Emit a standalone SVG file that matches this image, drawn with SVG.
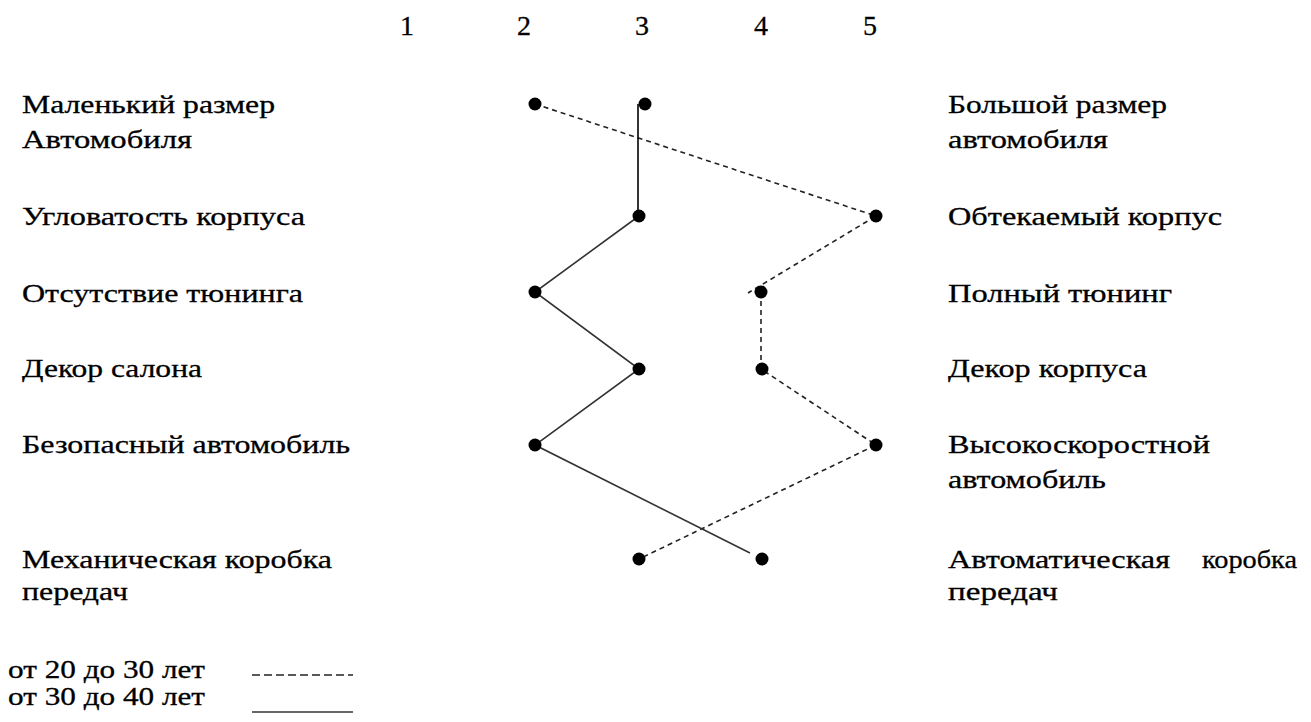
<svg xmlns="http://www.w3.org/2000/svg" width="1311" height="722" viewBox="0 0 1311 722">
<style>
text{font-family:"Liberation Serif","DejaVu Serif",serif;font-size:26px;fill:#000;stroke:#000;stroke-width:0.3}
.num{text-anchor:middle;font-size:28px}
.dot{fill:#000}
.solid{fill:none;stroke:#333;stroke-width:1.6}
.dash{fill:none;stroke:#222;stroke-width:1.6;stroke-dasharray:5 4}
.ldash{fill:none;stroke:#222;stroke-width:1.3;stroke-dasharray:8 4}
</style>
<rect width="1311" height="722" fill="#fff"/>
<g id="scale">
<text class="num" x="407" y="35">1</text>
<text class="num" x="524" y="35">2</text>
<text class="num" x="642" y="35">3</text>
<text class="num" x="761" y="35">4</text>
<text class="num" x="870" y="35">5</text>
</g>
<g id="left-labels">
<g id="l1"><text x="22" y="113" textLength="253" lengthAdjust="spacingAndGlyphs">Маленький размер</text><text x="22" y="148" textLength="170" lengthAdjust="spacingAndGlyphs">Автомобиля</text></g>
<g id="l2"><text x="22" y="225" textLength="283" lengthAdjust="spacingAndGlyphs">Угловатость корпуса</text></g>
<g id="l3"><text x="22" y="302" textLength="281" lengthAdjust="spacingAndGlyphs">Отсутствие тюнинга</text></g>
<g id="l4"><text x="22" y="377" textLength="180" lengthAdjust="spacingAndGlyphs">Декор салона</text></g>
<g id="l5"><text x="22" y="453" textLength="328" lengthAdjust="spacingAndGlyphs">Безопасный автомобиль</text></g>
<g id="l6"><text x="22" y="568" textLength="310" lengthAdjust="spacingAndGlyphs">Механическая коробка</text><text x="22" y="600" textLength="106" lengthAdjust="spacingAndGlyphs">передач</text></g>
</g>
<g id="right-labels">
<g id="r1"><text x="948" y="113" textLength="219" lengthAdjust="spacingAndGlyphs">Большой размер</text><text x="948" y="148" textLength="160" lengthAdjust="spacingAndGlyphs">автомобиля</text></g>
<g id="r2"><text x="948" y="225" textLength="274" lengthAdjust="spacingAndGlyphs">Обтекаемый корпус</text></g>
<g id="r3"><text x="948" y="302" textLength="224" lengthAdjust="spacingAndGlyphs">Полный тюнинг</text></g>
<g id="r4"><text x="948" y="377" textLength="199" lengthAdjust="spacingAndGlyphs">Декор корпуса</text></g>
<g id="r5"><text x="948" y="453" textLength="262" lengthAdjust="spacingAndGlyphs">Высокоскоростной</text><text x="948" y="488" textLength="158" lengthAdjust="spacingAndGlyphs">автомобиль</text></g>
<g id="r6"><text x="948" y="568" textLength="222" lengthAdjust="spacingAndGlyphs">Автоматическая</text><text x="1202" y="568" textLength="95" lengthAdjust="spacingAndGlyphs">коробка</text><text x="948" y="600" textLength="110" lengthAdjust="spacingAndGlyphs">передач</text></g>
</g>
<g id="connectors">
<polyline class="dash" points="535,104 876,216 748,293"/>
<polyline class="dash" points="761,292 761,369 876,445 639,559"/>
<line class="solid" x1="638" y1="104" x2="638" y2="216" style="stroke:#000"/>
<polyline class="solid" points="639,216 535,292 639,369 535,445 750,553"/>
</g>
<g id="dots">
<circle id="d20-1" class="dot" cx="535" cy="104" r="6.5"/>
<circle id="d30-1" class="dot" cx="645" cy="104" r="6.5"/>
<circle id="d30-2" class="dot" cx="639" cy="216" r="6.5"/>
<circle id="d20-2" class="dot" cx="876" cy="216" r="6.5"/>
<circle id="d30-3" class="dot" cx="535" cy="292" r="6.5"/>
<circle id="d20-3" class="dot" cx="761" cy="292" r="6.5"/>
<circle id="d30-4" class="dot" cx="639" cy="369" r="6.5"/>
<circle id="d20-4" class="dot" cx="762" cy="369" r="6.5"/>
<circle id="d30-5" class="dot" cx="535" cy="445" r="6.5"/>
<circle id="d20-5" class="dot" cx="876" cy="445" r="6.5"/>
<circle id="d20-6" class="dot" cx="639" cy="559" r="6.5"/>
<circle id="d30-6" class="dot" cx="762" cy="559" r="6.5"/>
</g>
<g id="legend">
<text x="8" y="678" textLength="197" lengthAdjust="spacingAndGlyphs">от 20 до 30 лет</text>
<line class="ldash" x1="252" y1="675" x2="353" y2="675"/>
<text x="8" y="705" textLength="197" lengthAdjust="spacingAndGlyphs">от 30 до 40 лет</text>
<line class="solid" x1="252" y1="712" x2="353" y2="712"/>
</g>
</svg>
